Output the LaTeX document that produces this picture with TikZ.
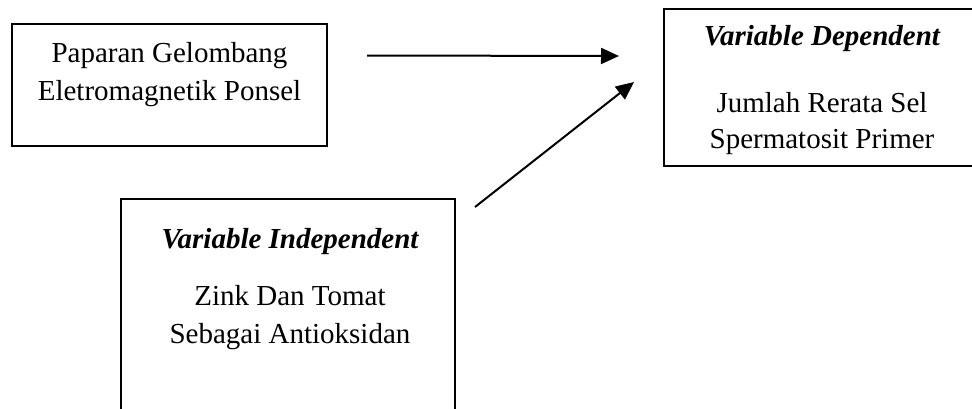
\documentclass[tikz,border=0pt]{standalone}
\usepackage{fontspec}
\setmainfont{Liberation Serif}
\usetikzlibrary{arrows.meta}
\begin{document}
\begin{tikzpicture}[x=1pt,y=-1pt,
  box/.style={draw=black,line width=1.4pt,minimum width=#1,inner sep=0pt},
  txt/.style={anchor=base,inner sep=0pt,font=\fontsize{29}{36}\selectfont},
  hd/.style={txt,font=\fontsize{29}{36}\selectfont\bfseries\itshape},
  arr/.style={line width=2pt,-{Triangle[length=18pt,width=16pt]}}]
\useasboundingbox (0,0) rectangle (972,408);
\clip (0,0) rectangle (972,408);
\node[box=315pt,minimum height=122pt] (b1) at (169.5,85) {};
\node[box=316pt,minimum height=157pt] (b2) at (822,87.5) {};
\node[box=334pt,minimum height=262pt] (b3) at (288,330) {};
\node[txt] (b1a) at (169.5,62) {Paparan Gelombang};
\node[txt] (b1b) at (169.5,100) {Eletromagnetik Ponsel};
\node[hd] (b2h) at (822,45) {Variable Dependent};
\node[txt] (b2a) at (822,112) {Jumlah Rerata Sel};
\node[txt] (b2b) at (822,148) {Spermatosit Primer};
\node[hd] (b3h) at (290,248) {Variable Independent};
\node[txt] (b3a) at (290,305.5) {Zink Dan Tomat};
\node[txt] (b3b) at (290,343.5) {Sebagai Antioksidan};
\coordinate (a1s) at (367,55.5);
\coordinate (a1e) at (619,56);
\coordinate (a2s) at (475,207);
\coordinate (a2e) at (634,82);
\draw[arr] (a1s) -- (a1e);
\draw[arr] (a2s) -- (a2e);
\end{tikzpicture}
\end{document}
